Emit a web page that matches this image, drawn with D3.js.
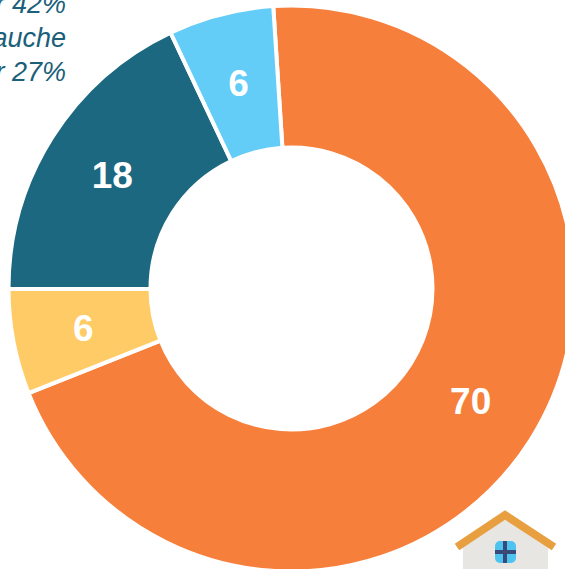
<!DOCTYPE html>
<html lang="fr">
  <head>
    <meta charset="UTF-8" />
    <title>Donut</title>
    <style>
      html, body { margin: 0; padding: 0; background: #fff; overflow: hidden; }
      svg { display: block; font-family: "Liberation Sans", Arial, sans-serif; }
      .note { font-style: italic; font-size: 27px; fill: #1b5f7a; text-anchor: end; }
      .val { font-weight: bold; font-size: 37px; fill: #fff; text-anchor: middle; dominant-baseline: central; }
    </style>
  </head>
  <body>
    <svg id="container" width="565" height="569"></svg>
    <script src="https://cdn.jsdelivr.net/npm/d3@7"></script>
    <script>
      // data
      const labels = ["a", "b", "c", "d"];
      const values = [70, 6, 18, 6];
      const colors = ["#f67f3b", "#ffcb66", "#1b6880", "#63cdf7"];
      const noteLines = ["pour 42%", "de gauche", "pour 27%"];

      let svg = d3.select("#container");
      let center = [291.5, 288.5];
      let startAngle = (-3.7 * Math.PI) / 180;

      let pie = d3.pie().sort(null).startAngle(startAngle).endAngle(startAngle + 2 * Math.PI);
      let arc = d3.arc().innerRadius(141).outerRadius(283);
      let slices = pie(values);

      let body = svg.append("g").attr("transform", "translate(" + center + ")");
      body
        .selectAll("path")
        .data(slices)
        .join("path")
        .attr("d", arc)
        .attr("fill", (d, i) => colors[i])
        .attr("stroke", "#fff")
        .attr("stroke-width", 4)
        .attr("data-label", (d, i) => labels[i]);

      body
        .selectAll("text")
        .data(slices)
        .join("text")
        .attr("class", "val")
        .attr("transform", (d) => "translate(" + arc.centroid(d) + ")")
        .text((d) => d.data);

      // note cut by the left edge
      svg
        .selectAll("text.note")
        .data(noteLines)
        .join("text")
        .attr("class", "note")
        .attr("x", 66)
        .attr("y", (d, i) => 13 + i * 34)
        .text((d) => d);

      // little house in the corner
      let house = svg.append("g");
      house.append("path").attr("d", "M463 569V544L505 516L548 544V569Z").attr("fill", "#e8e6e3");
      house
        .append("path")
        .attr("d", "M457 547L505 515L554 547")
        .attr("fill", "none")
        .attr("stroke", "#e89f3f")
        .attr("stroke-width", 8);
      house.append("rect").attr("x", 495).attr("y", 541).attr("width", 21).attr("height", 22).attr("rx", 5).attr("fill", "#4fc3ef");
      house.append("rect").attr("x", 503).attr("y", 541).attr("width", 4).attr("height", 22).attr("fill", "#3a4a78");
      house.append("rect").attr("x", 495).attr("y", 550).attr("width", 21).attr("height", 4).attr("fill", "#3a4a78");
    </script>
  </body>
</html>
